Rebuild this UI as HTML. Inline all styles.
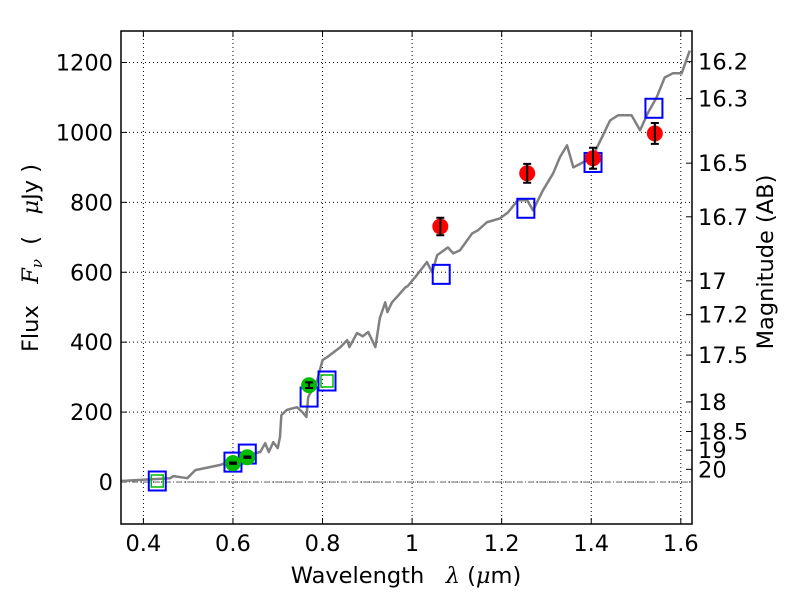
<!DOCTYPE html>
<html><head><meta charset="utf-8"><style>
body{margin:0;background:#fff;}
svg{display:block;font-family:"DejaVu Sans","Liberation Sans",sans-serif;}
</style></head><body>
<svg id="chart" width="800" height="600" viewBox="0 0 800 600"></svg>
<script>
const modelWave=[0.35,0.46,0.467,0.498,0.516,0.572,0.60,0.632,0.661,0.672,0.68,0.69,0.70,0.705,0.708,0.72,0.743,0.755,0.764,0.768,0.788,0.80,0.81,0.84,0.855,0.86,0.877,0.89,0.902,0.918,0.928,0.94,0.945,0.955,0.966,0.985,0.99,1.01,1.033,1.045,1.056,1.08,1.092,1.107,1.134,1.147,1.167,1.196,1.214,1.236,1.257,1.27,1.292,1.315,1.33,1.346,1.36,1.381,1.402,1.424,1.442,1.46,1.49,1.509,1.527,1.546,1.564,1.582,1.602,1.62];
const modelFlux=[3,11,17,11,34,49,63,77,86,111,86,114,97,129,191,206,214,200,186,243,291,349,357,386,406,386,426,417,429,386,469,514,486,514,529,557,560,591,629,600,649,671,654,663,711,720,743,754,771,806,806,777,834,883,929,963,900,914,929,986,1034,1049,1049,1006,1057,1100,1157,1169,1169,1234];
const greenWave=[0.60,0.632,0.77];
const greenFlux=[54,71,277];
const greenErr=[2,2,8];
const redWave=[1.063,1.257,1.404,1.542];
const redFlux=[731,883,926,997];
const redErr=[25,27,30,30];
const blueSqWave=[0.431,0.60,0.632,0.77,0.81,1.065,1.254,1.404,1.54];
const blueSqFlux=[3,57,80,243,289,594,783,914,1069];
const greenSqWave=[0.431,0.81];
const greenSqFlux=[3,289];
const xTicks=[0.4,0.6,0.8,1,1.2,1.4,1.6];
const xTickLabels=["0.4","0.6","0.8","1","1.2","1.4","1.6"];
const yTicks=[0,200,400,600,800,1000,1200];
const magTicks=[16.2,16.3,16.5,16.7,17,17.2,17.5,18,18.5,19,20];

const L=121,R=692,T=31,B=524;
const xMin=0.35,xMax=1.625,yMin=-120,yMax=1290;
const X=v=>L+(v-xMin)/(xMax-xMin)*(R-L);
const Y=v=>B-(v-yMin)/(yMax-yMin)*(B-T);
const svg=document.getElementById('chart');
const NS='http://www.w3.org/2000/svg';
function mk(tag,a,parent){const e=document.createElementNS(NS,tag);for(const k in a)e.setAttribute(k,a[k]);(parent||svg).appendChild(e);return e;}
const FS=22.5;

xTicks.forEach((v,i)=>{
 const g=mk('line',{x1:X(v),x2:X(v),y1:T,y2:B,stroke:'#000','stroke-width':1,'stroke-dasharray':'1,3'});
 
 
 const tk=mk('line',{x1:X(v),x2:X(v),y1:B,y2:B-6,stroke:'#000'});
 
 
 mk('line',{x1:X(v),x2:X(v),y1:T,y2:T+6,stroke:'#000'});
 const t=mk('text',{x:X(v),y:B+27,'text-anchor':'middle','font-size':FS});
 t.textContent=xTickLabels[i];
 
 
});
yTicks.forEach(v=>{
 const g=mk('line',{x1:L,x2:R,y1:Y(v),y2:Y(v),stroke:'#000','stroke-width':1,'stroke-dasharray':'1,3'});
 
 
 mk('line',{x1:L,x2:L+6,y1:Y(v),y2:Y(v),stroke:'#000'});
 const t=mk('text',{x:L-8,y:Y(v)+8,'text-anchor':'end','font-size':FS});
 t.textContent=String(v);
 
 
});
magTicks.forEach(m=>{
 const f=Math.pow(10,(23.9-m)/2.5);
 mk('line',{x1:R,x2:R-6,y1:Y(f),y2:Y(f),stroke:'#000'});
 const t=mk('text',{x:R+6,y:Y(f)+8,'font-size':FS});
 t.textContent=String(m);
 
 
});
const z=mk('line',{x1:L,x2:R,y1:Y(0),y2:Y(0),stroke:'#555','stroke-width':0.8,'stroke-dasharray':'6,2,1,2'});



const pl=mk('polyline',{points:modelWave.map((w,i)=>X(w)+','+Y(modelFlux[i])).join(' '),fill:'none',stroke:'#808080','stroke-width':2.5,'stroke-linejoin':'round'});



blueSqWave.forEach((w,i)=>{
 const r=mk('rect',{x:X(w)-8.5,y:Y(blueSqFlux[i])-9.5,width:17,height:19,fill:'none',stroke:'#0000ff','stroke-width':2});
 
 
});
greenSqWave.forEach((w,i)=>{
 const r=mk('rect',{x:X(w)-6,y:Y(greenSqFlux[i])-6,width:12,height:12,fill:'none',stroke:'#00bb00','stroke-width':1.5});
 
 
});
function points(ws,fs,es,col,name){
 ws.forEach((w,i)=>{
  const c=mk('circle',{cx:X(w),cy:Y(fs[i]),r:8,fill:col});
  
  
  const y1=Y(fs[i]+es[i]),y2=Y(fs[i]-es[i]),x=X(w);
  const e=mk('path',{d:`M${x},${y1}L${x},${y2}M${x-4},${y1}L${x+4},${y1}M${x-4},${y2}L${x+4},${y2}`,stroke:'#000','stroke-width':2,fill:'none'});
  
  
 });
}
points(greenWave,greenFlux,greenErr,'#00bb00','green-data-point');
points(redWave,redFlux,redErr,'#ff0000','red-data-point');

const fr=mk('rect',{x:L,y:T,width:R-L,height:B-T,fill:'none',stroke:'#000','stroke-width':1.5});


const xt=mk('text',{x:406,y:583,'text-anchor':'middle','font-size':FS});
xt.innerHTML='Wavelength&#160;&#160;&#160;<tspan font-style="italic" font-family="DejaVu Serif,serif">λ</tspan> (<tspan font-style="italic" font-family="DejaVu Serif,serif">μ</tspan>m)';


const yt=mk('text',{x:0,y:0,'text-anchor':'middle','font-size':FS,transform:'translate(38,258) rotate(-90)'});
yt.innerHTML='Flux&#160;&#160;&#160;<tspan font-style="italic" font-family="DejaVu Serif,serif">F<tspan font-size="15" dy="4">ν</tspan></tspan><tspan dy="-4">&#160;&#160;(&#160;&#160;&#160;</tspan><tspan font-style="italic" font-family="DejaVu Serif,serif">μ</tspan>Jy )';


const rt=mk('text',{x:0,y:0,'text-anchor':'middle','font-size':FS,transform:'translate(773,262) rotate(-90)'});
rt.textContent='Magnitude (AB)';


</script>
</body></html>
